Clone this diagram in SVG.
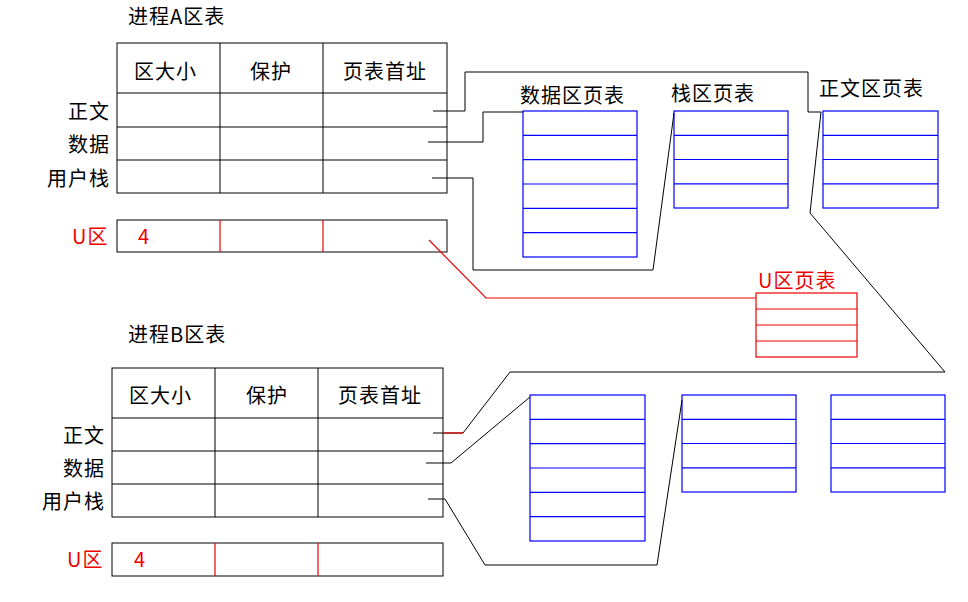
<svg xmlns="http://www.w3.org/2000/svg" width="968" height="602" viewBox="0 0 968 602">
<style>
text{font-family:"Noto Sans CJK SC","Liberation Sans",sans-serif;font-size:20px;letter-spacing:1px;fill:#000}
.r{fill:#e00}
.t{fill:none;stroke:#000;stroke-width:1}
.b{fill:none;stroke:#00f;stroke-width:1.2}
.rb{fill:none;stroke:#e00;stroke-width:1.2}
.c{fill:none;stroke:#000;stroke-width:1}
</style>
<rect width="968" height="602" fill="#fff"/>
<g id="tableA">
<text x="128" y="24">进程A区表</text>
<rect class="t" x="117" y="43" width="330" height="150"/>
<path class="t" d="M117 93H447M117 127H447M117 160H447M220 43V193M323 43V193"/>
<text x="134" y="79">区大小</text><text x="250" y="79">保护</text><text x="343" y="79">页表首址</text>
<text x="110" y="119" text-anchor="end">正文</text>
<text x="110" y="152" text-anchor="end">数据</text>
<text x="110" y="186" text-anchor="end">用户栈</text>
</g>
<g id="uA">
<rect class="t" x="117" y="220" width="330" height="32"/>
<path class="rb" d="M220 220V252M323 220V252"/>
<text class="r" x="72" y="244">U区</text><text class="r" x="138" y="244">4</text>
</g>
<g id="tableB">
<text x="128" y="342">进程B区表</text>
<rect class="t" x="112" y="368" width="331" height="149"/>
<path class="t" d="M112 418H443M112 451H443M112 484H443M215 368V517M318 368V517"/>
<text x="129" y="403">区大小</text><text x="246" y="403">保护</text><text x="338" y="403">页表首址</text>
<text x="105" y="443" text-anchor="end">正文</text>
<text x="105" y="476" text-anchor="end">数据</text>
<text x="105" y="509" text-anchor="end">用户栈</text>
</g>
<g id="uB">
<rect class="t" x="112" y="543" width="331" height="33"/>
<path class="rb" d="M215 543V576M318 543V576"/>
<text class="r" x="67" y="567">U区</text><text class="r" x="134" y="567">4</text>
</g>
<g id="dataA">
<text x="520" y="103">数据区页表</text>
<rect class="b" x="523" y="111" width="114" height="146"/>
<path class="b" d="M523 135.3H637M523 159.7H637M523 184H637M523 208.3H637M523 232.7H637"/>
</g>
<g id="stackA">
<text x="671" y="101">栈区页表</text>
<rect class="b" x="674" y="111" width="114" height="97"/>
<path class="b" d="M674 135.3H788M674 159.5H788M674 183.8H788"/>
</g>
<g id="textA">
<text x="819" y="96">正文区页表</text>
<rect class="b" x="823" y="111" width="115" height="97"/>
<path class="b" d="M823 135.3H938M823 159.5H938M823 183.8H938"/>
</g>
<g id="uPage">
<text class="r" x="758" y="288">U区页表</text>
<rect class="rb" x="756" y="293" width="101" height="64"/>
<path class="rb" d="M756 309H857M756 325H857M756 341H857"/>
</g>
<g id="dataB">
<rect class="b" x="530" y="395" width="115" height="146"/>
<path class="b" d="M530 419.3H645M530 443.7H645M530 468H645M530 492.3H645M530 516.7H645"/>
</g>
<g id="stackB">
<rect class="b" x="682" y="395" width="114" height="97"/>
<path class="b" d="M682 419.3H796M682 443.5H796M682 467.8H796"/>
</g>
<g id="textB">
<rect class="b" x="831" y="395" width="114" height="97"/>
<path class="b" d="M831 419.3H945M831 443.5H945M831 467.8H945"/>
</g>
<g id="connectors">
<path class="c" d="M433 111H465V72H808V112H821L810 213L945 372H510L463 433H433"/>
<path class="rb" d="M443 433H463"/>
<path class="c" d="M428 142H483V112H523"/>
<path class="c" d="M432 178H473V270H653L674 113"/>
<path class="rb" d="M429 240L486 298H756"/>
<path class="c" d="M426 463H451L530 397"/>
<path class="c" d="M428 499H445L485 565H657L682 400"/>
</g>
</svg>
